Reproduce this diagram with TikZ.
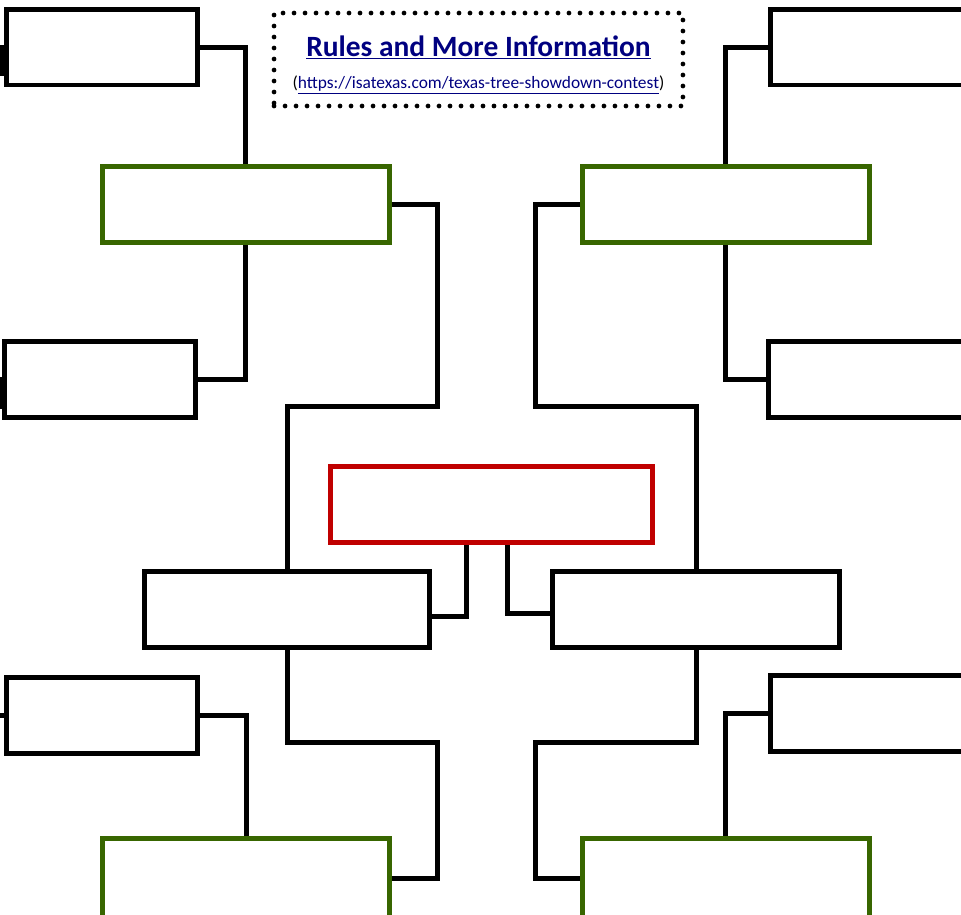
\documentclass[tikz,border=0pt]{standalone}
\usepackage{fontspec}
\setmainfont{Carlito}
\definecolor{boxgreen}{RGB}{56,102,0}
\definecolor{boxred}{RGB}{192,0,0}
\definecolor{linknavy}{RGB}{0,0,128}
\begin{document}
\begin{tikzpicture}[x=0.02cm,y=-0.02cm,
        box/.style={draw,line width=0.1cm,inner sep=0pt,minimum height=1.52cm},
        small/.style={box,minimum width=3.84cm},
        wide/.style={box,minimum width=5.74cm},
        link/.style={line width=0.1cm},
        dotbox/.style={draw,line width=0.095cm,dash pattern=on 0pt off 0.22cm,line cap=round,
                minimum width=8.18cm,minimum height=1.86cm,inner sep=0pt}]
        \useasboundingbox (0,0) rectangle (961,914);
        \clip (0,0) rectangle (961,914);
        % title box
        \draw (478.5,59.5) node[dotbox] (T) {};
        \draw (478.5,56) node[anchor=base,text=linknavy,font=\fontsize{16.75}{18}\selectfont\bfseries] (T1) {\underline{Rules and More Information}};
        \draw (478.5,88) node[anchor=base,font=\fontsize{9.9}{11}\selectfont] (T2) {(\textcolor{linknavy}{\underline{https://isatexas.com/texas-tree-showdown-contest}})};
        % outer boxes
        \draw (102,47) node[small] (A1) {};
        \draw (100,379.5) node[small] (A2) {};
        \draw (102,715) node[small] (A3) {};
        \draw (870,47) node[small,minimum width=4cm] (A4) {};
        \draw (868.3,379.5) node[small,minimum width=4cm] (A5) {};
        \draw (870,713) node[small,minimum width=4cm] (A6) {};
        % green boxes
        \draw (245.75,204.75) node[wide,draw=boxgreen] (G1) {};
        \draw (725.75,204.75) node[wide,draw=boxgreen] (G2) {};
        \draw (246,878) node[wide,draw=boxgreen,minimum height=1.6cm] (G3) {};
        \draw (725.75,878) node[wide,draw=boxgreen,minimum height=1.6cm] (G4) {};
        % middle boxes and final
        \draw (287,609) node[wide,minimum width=5.72cm] (M1) {};
        \draw (696,609) node[wide,minimum width=5.76cm] (M2) {};
        \draw (491.5,504.6) node[box,draw=boxred,minimum width=6.46cm] (W) {};
        % bends
        \coordinate (LU) at (437.5,406);
        \coordinate (LD) at (437.5,742);
        \coordinate (RU) at (535,406);
        \coordinate (RD) at (535,742);
        \coordinate (S1) at (1.5,76);
        \coordinate (S2) at (0,409);
        \coordinate (S3) at (0,715);
        % connectors
        \draw[link] (A1.east) -| (G1.north);
        \draw[link] (G1.south) |- (A2.east);
        \draw[link] (A3.east) -| (G3.north);
        \draw[link] (A4.west) -| (G2.north);
        \draw[link] (G2.south) |- (A5.west);
        \draw[link] (A6.west) -| (G4.north);
        \draw[link] (G1.east) -| (LU) -| (M1.north);
        \draw[link] (M1.south) |- (LD) |- (G3.east);
        \draw[link] (G2.west) -| (RU) -| (M2.north);
        \draw[link] (M2.south) |- (RD) |- (G4.west);
        \draw[link] ([yshift=-0.15cm]M1.east) -| ([xshift=-0.5cm]W.south);
        \draw[link] ([xshift=0.32cm]W.south) |- ([yshift=-0.09cm]M2.west);
        \draw[link] (A1.west) -| (S1);
        \draw[link] (A2.west) -| (S2);
        \draw[link] (A3.west) -- (S3);
\end{tikzpicture}
\end{document}
